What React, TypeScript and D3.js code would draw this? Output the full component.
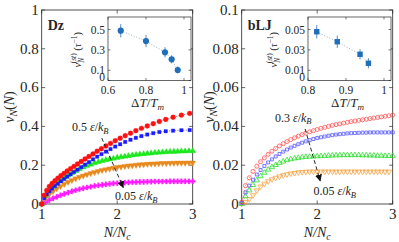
import React from "react";
import * as d3 from "d3";

// N/Nc sample grids
const xDzFast = [1.0, 1.033, 1.067, 1.102, 1.138, 1.176, 1.214, 1.254, 1.296, 1.338, 1.383, 1.428, 1.475, 1.524, 1.574, 1.626, 1.679, 1.734, 1.791, 1.85, 1.911, 1.974, 2.039, 2.106, 2.176, 2.247, 2.321, 2.398, 2.477, 2.558, 2.643, 2.74, 2.85, 2.96];
const xUniform = [1.0, 1.05, 1.1, 1.15, 1.2, 1.25, 1.3, 1.35, 1.4, 1.45, 1.5, 1.55, 1.6, 1.65, 1.7, 1.75, 1.8, 1.85, 1.9, 1.95, 2.0, 2.05, 2.1, 2.15, 2.2, 2.25, 2.3, 2.35, 2.4, 2.45, 2.5, 2.55, 2.6, 2.65, 2.7, 2.75, 2.8, 2.85, 2.9, 2.95, 3.0];

// Dz series (v_N)
const dzRed = [0, 0.045, 0.07, 0.09, 0.106, 0.12, 0.133, 0.146, 0.158, 0.17, 0.182, 0.194, 0.206, 0.219, 0.232, 0.245, 0.258, 0.272, 0.285, 0.299, 0.312, 0.326, 0.339, 0.352, 0.365, 0.378, 0.39, 0.402, 0.414, 0.425, 0.436, 0.447, 0.458, 0.467];
const dzBlue = [0, 0.03, 0.05, 0.066, 0.08, 0.093, 0.105, 0.117, 0.129, 0.141, 0.153, 0.165, 0.177, 0.19, 0.203, 0.216, 0.23, 0.244, 0.257, 0.27, 0.283, 0.296, 0.308, 0.32, 0.331, 0.341, 0.35, 0.358, 0.365, 0.371, 0.375, 0.378, 0.38, 0.381];
const dzGreen = [0, 0.042, 0.068, 0.089, 0.107, 0.122, 0.136, 0.148, 0.16, 0.17, 0.18, 0.189, 0.197, 0.204, 0.211, 0.217, 0.222, 0.227, 0.231, 0.235, 0.239, 0.242, 0.245, 0.248, 0.251, 0.254, 0.256, 0.258, 0.26, 0.262, 0.264, 0.265, 0.267, 0.268, 0.269, 0.27, 0.271, 0.272, 0.272, 0.273, 0.273];
const dzOrange = [0, 0.03, 0.05, 0.066, 0.08, 0.092, 0.103, 0.113, 0.122, 0.131, 0.139, 0.146, 0.152, 0.158, 0.164, 0.169, 0.174, 0.178, 0.182, 0.186, 0.189, 0.192, 0.195, 0.197, 0.199, 0.201, 0.203, 0.204, 0.206, 0.207, 0.208, 0.209, 0.21, 0.21, 0.211, 0.211, 0.212, 0.212, 0.212, 0.213, 0.213];
const dzMagenta = [0, 0.01, 0.02, 0.029, 0.037, 0.045, 0.052, 0.059, 0.065, 0.071, 0.076, 0.081, 0.085, 0.089, 0.093, 0.096, 0.099, 0.101, 0.104, 0.106, 0.107, 0.109, 0.11, 0.111, 0.112, 0.113, 0.114, 0.114, 0.115, 0.115, 0.116, 0.116, 0.116, 0.116, 0.117, 0.117, 0.117, 0.117, 0.117, 0.117, 0.117];

// bLJ series (v_N)
const ljRed = [0.001, 0.0095, 0.0135, 0.0168, 0.0195, 0.0218, 0.0238, 0.0256, 0.0272, 0.0286, 0.0299, 0.0311, 0.0322, 0.0332, 0.0341, 0.035, 0.0358, 0.0365, 0.0372, 0.0378, 0.0384, 0.039, 0.0395, 0.04, 0.0405, 0.0409, 0.0413, 0.0417, 0.0421, 0.0425, 0.0428, 0.0431, 0.0434, 0.0437, 0.044, 0.0443, 0.0446, 0.0449, 0.0452, 0.0455, 0.0458];
const ljBlue = [0.0005, 0.006, 0.0095, 0.0125, 0.0152, 0.0175, 0.0196, 0.0214, 0.023, 0.0245, 0.0258, 0.027, 0.0281, 0.0291, 0.03, 0.0308, 0.0316, 0.0323, 0.0329, 0.0335, 0.034, 0.0344, 0.0348, 0.0352, 0.0355, 0.0358, 0.036, 0.0362, 0.0364, 0.0365, 0.0366, 0.0367, 0.0368, 0.0368, 0.0369, 0.0369, 0.0369, 0.0369, 0.0369, 0.0369, 0.0369];
const ljGreen = [0, 0.004, 0.007, 0.0098, 0.0122, 0.0143, 0.0161, 0.0177, 0.019, 0.0201, 0.0211, 0.0219, 0.0226, 0.0231, 0.0235, 0.0238, 0.0241, 0.0243, 0.0244, 0.0245, 0.0246, 0.0247, 0.0248, 0.0249, 0.025, 0.0251, 0.0251, 0.0252, 0.0252, 0.0252, 0.0252, 0.0252, 0.0251, 0.0251, 0.025, 0.025, 0.0249, 0.0249, 0.0248, 0.0248, 0.0248];
const ljOrange = [0, 0.001, 0.0025, 0.0045, 0.007, 0.009, 0.0105, 0.0117, 0.0127, 0.0135, 0.0142, 0.0148, 0.0153, 0.0157, 0.016, 0.0163, 0.0165, 0.0166, 0.0167, 0.0167, 0.0167, 0.0167, 0.0167, 0.0167, 0.0167, 0.0167, 0.0167, 0.0167, 0.0167, 0.0167, 0.0167, 0.0167, 0.0167, 0.0167, 0.0167, 0.0167, 0.0167, 0.0167, 0.0167, 0.0167];

// insets: steady-state velocity vs undercooling
const dzInsetT = [0.667, 0.8, 0.9, 0.935, 0.967];
const dzInsetV = [0.488, 0.387, 0.276, 0.208, 0.103];
const dzInsetErr = [0.065, 0.06, 0.05, 0.04, 0.035];
const ljInsetT = [0.823, 0.877, 0.937, 0.959];
const ljInsetV = [0.0478, 0.038, 0.0257, 0.0169];
const ljInsetErr = [0.0065, 0.006, 0.005, 0.005];

// ticks
const mainXTicks = [1, 2, 3];
const dzYTicks = [0, 0.2, 0.4, 0.6, 0.8, 1];
const dzYTickLabels = ["0", "0.2", "0.4", "0.6", "0.8", "1"];
const ljYTicks = [0, 0.02, 0.04, 0.06, 0.08, 0.1];
const ljYTickLabels = ["0", "0.02", "0.04", "0.06", "0.08", "0.1"];
const dzInsetXTicks = [0.6, 0.8, 1];
const dzInsetXLabels = ["0.6", "0.8", "1"];
const dzInsetYTicks = [0, 0.1, 0.3, 0.5];
const dzInsetYLabels = ["0", "0.1", "0.3", "0.5"];
const ljInsetXTicks = [0.8, 0.9, 1];
const ljInsetXLabels = ["0.8", "0.9", "1"];
const ljInsetYTicks = [0, 0.01, 0.03, 0.05];
const ljInsetYLabels = ["0", "0.01", "0.03", "0.05"];

const FONT = "'Liberation Serif', 'Times New Roman', serif";
const AX = "#262626";

type Series = {
  xs: number[];
  ys: number[];
  color: string;
  shape: string;
  size: number;
  open?: boolean;
};

const symbols: Record<string, d3.SymbolType> = {
  circle: d3.symbolCircle,
  square: d3.symbolSquare,
  up: d3.symbolTriangle,
  down: d3.symbolTriangle,
  cross: d3.symbolCross,
};

function Eps({ value }: { value: string }) {
  return (
    <>
      {value + " "}
      <tspan fontStyle="italic">ε</tspan>/<tspan fontStyle="italic">k</tspan>
      <tspan fontStyle="italic" fontSize="8.5" dy="2.5">B</tspan>
    </>
  );
}

function Panel(props: {
  x0: number;
  x1: number;
  yMax: number;
  yTicks: number[];
  yLabels: string[];
  series: Series[];
  name: string;
  inset: {
    left: number;
    t: number[];
    v: number[];
    err: number[];
    xTicks: number[];
    xLabels: string[];
    yTicks: number[];
    yLabels: string[];
    vTop: number;
    marker: string;
    labelGap: number;
  };
  arrow: { from: [number, number]; to: [number, number] };
  hiLabel: { at: [number, number]; text: string };
  loLabel: { at: [number, number]; text: string };
}) {
  const { x0, x1, yMax } = props;
  const top = 10;
  const bottom = 204;
  const x = d3.scaleLinear().domain([1, 3]).range([x0, x1]);
  const y = d3.scaleLinear().domain([0, yMax]).range([bottom, top]);
  const ins = props.inset;
  const iTop = 17;
  const iBottom = 80.5;
  const iLeft = ins.left;
  const ix = d3.scaleLinear().domain([ins.xTicks[0], 1]).range([iLeft, iLeft + 76]);
  const iRight = iLeft + 83;
  const iy = d3.scaleLinear().domain([0, ins.vTop]).range([iBottom, 29.5]);
  const line = d3.line<number>();
  const tk = 3.5;
  const midX = (x0 + x1) / 2;
  const sym = (shape: string, size: number) => d3.symbol().type(symbols[shape]).size(size)()!;

  return (
    <g fontFamily={FONT} fill={AX}>
      <rect x={x0} y={top} width={x1 - x0} height={bottom - top} fill="white" stroke={AX} strokeWidth={0.8} />
      {/* main ticks */}
      {mainXTicks.map((t) => (
        <g key={"xt" + t}>
          <line x1={x(t)} x2={x(t)} y1={bottom} y2={bottom - tk} stroke={AX} strokeWidth={0.7} />
          <line x1={x(t)} x2={x(t)} y1={top} y2={top + tk} stroke={AX} strokeWidth={0.7} />
          <text x={x(t)} y={219} fontSize={15} textAnchor="middle">{t}</text>
        </g>
      ))}
      {props.yTicks.map((t, i) => (
        <g key={"yt" + t}>
          <line x1={x0} x2={x0 + tk} y1={y(t)} y2={y(t)} stroke={AX} strokeWidth={0.7} />
          <line x1={x1} x2={x1 - tk} y1={y(t)} y2={y(t)} stroke={AX} strokeWidth={0.7} />
          <text x={x0 - 3} y={y(t) + 4.8} fontSize={15} textAnchor="end">{props.yLabels[i]}</text>
        </g>
      ))}
      <text x={midX} y={237} fontSize={14} textAnchor="middle" fontStyle="italic">
        N/N<tspan fontSize={10} dy={3}>c</tspan>
      </text>
      <text transform={`translate(${x0 - 28},${(top + bottom) / 2}) rotate(-90)`} fontSize={14} textAnchor="middle">
        <tspan fontStyle="italic">v</tspan>
        <tspan fontStyle="italic" fontSize={10} dy={3}>N</tspan>
        <tspan dy={-3}>(</tspan>
        <tspan fontStyle="italic">N</tspan>)
      </text>
      <text x={x0 + 6} y={30} fontSize={14} fontWeight="bold">{props.name}</text>

      {/* data */}
      <g>
        {props.series.map((s, k) => {
          const pts = s.xs.slice(0, s.ys.length).map((xv, i) => [x(xv), y(s.ys[i])] as [number, number]);
          return (
            <g key={k}>
              <path d={line(pts as any)!} fill="none" stroke={s.color} strokeWidth={0.6} strokeDasharray="1.2,1.6" />
              {pts.map((p, i) => (
                <path
                  key={i}
                  d={sym(s.shape, s.size)}
                  transform={`translate(${p[0]},${p[1]})${s.shape === "down" ? " rotate(180)" : ""}`}
                  fill={s.open ? "none" : s.color}
                  stroke={s.color}
                  strokeWidth={s.open ? 0.8 : 0.3}
                />
              ))}
            </g>
          );
        })}
      </g>

      {/* annotation */}
      <line
        x1={x(props.arrow.from[0])}
        y1={y(props.arrow.from[1])}
        x2={x(props.arrow.to[0])}
        y2={y(props.arrow.to[1])}
        stroke="#111"
        strokeWidth={0.9}
        strokeDasharray="4,2.5"
        markerEnd="url(#ah)"
      />
      <text x={x(props.hiLabel.at[0])} y={y(props.hiLabel.at[1])} fontSize={12} fill="#222">
        <Eps value={props.hiLabel.text} />
      </text>
      <text x={x(props.loLabel.at[0])} y={y(props.loLabel.at[1])} fontSize={12} fill="#222">
        <Eps value={props.loLabel.text} />
      </text>

      {/* inset */}
      <rect x={iLeft} y={iTop} width={iRight - iLeft} height={iBottom - iTop} fill="white" stroke={AX} strokeWidth={0.7} />
      {ins.xTicks.map((t, i) => (
        <g key={"ixt" + t}>
          <line x1={ix(t)} x2={ix(t)} y1={iBottom} y2={iBottom - 2.5} stroke={AX} strokeWidth={0.6} />
          <line x1={ix(t)} x2={ix(t)} y1={iTop} y2={iTop + 2.5} stroke={AX} strokeWidth={0.6} />
          <text x={ix(t)} y={94} fontSize={11.5} textAnchor="middle">{ins.xLabels[i]}</text>
        </g>
      ))}
      {ins.yTicks.map((t, i) => (
        <g key={"iyt" + t}>
          <line x1={iLeft} x2={iLeft + 2.5} y1={iy(t)} y2={iy(t)} stroke={AX} strokeWidth={0.6} />
          <line x1={iRight} x2={iRight - 2.5} y1={iy(t)} y2={iy(t)} stroke={AX} strokeWidth={0.6} />
          <text x={iLeft - 3} y={iy(t) + (t === 0 ? 0.5 : 4)} fontSize={11.5} textAnchor="end">{ins.yLabels[i]}</text>
        </g>
      ))}
      <text x={(iLeft + iRight) / 2 - 2} y={107} fontSize={13} textAnchor="middle">
        Δ<tspan fontStyle="italic">T</tspan>/<tspan fontStyle="italic">T</tspan>
        <tspan fontStyle="italic" fontSize={9} dy={2.5}>m</tspan>
      </text>
      <text transform={`translate(${iLeft - ins.labelGap},${(iTop + iBottom) / 2 + 1}) rotate(-90)`} fontSize={10.5} textAnchor="middle">
        <tspan fontStyle="italic">v</tspan>
        <tspan fontStyle="italic" fontSize={7.5} dy={2.5}>N</tspan>
        <tspan fontSize={7.5} dx={-5.5} dy={-7.5}>(</tspan>
        <tspan fontSize={7.5} fontStyle="italic">st</tspan>
        <tspan fontSize={7.5}>)</tspan>
        <tspan dy={5}>{"  ("}</tspan>
        <tspan fontStyle="italic">τ</tspan>
        <tspan fontSize={7.5} dy={-4.5}>−1</tspan>
        <tspan dy={4.5}>)</tspan>
      </text>
      <path
        d={line(ins.t.map((t, i) => [ix(t), iy(ins.v[i])]) as any)!}
        fill="none"
        stroke="#7f9fc4"
        strokeWidth={0.8}
        strokeDasharray="1,1.8"
      />
      {ins.t.map((t, i) => (
        <g key={"ip" + i}>
          <line
            x1={ix(t)}
            x2={ix(t)}
            y1={iy(ins.v[i] - ins.err[i])}
            y2={iy(ins.v[i] + ins.err[i])}
            stroke="#2f6fb5"
            strokeWidth={0.8}
          />
          {ins.marker === "circle" ? (
            <circle cx={ix(t)} cy={iy(ins.v[i])} r={3.1} fill="#1f6fb8" />
          ) : (
            <rect x={ix(t) - 2.7} y={iy(ins.v[i]) - 2.7} width={5.4} height={5.4} fill="#1f6fb8" />
          )}
        </g>
      ))}
    </g>
  );
}

export default function App() {
  const dzSeries: Series[] = [
    { xs: xUniform, ys: dzMagenta, color: "#ff1aff", shape: "cross", size: 15 },
    { xs: xUniform, ys: dzOrange, color: "#e8891e", shape: "down", size: 16 },
    { xs: xUniform, ys: dzGreen, color: "#1ee81e", shape: "up", size: 16 },
    { xs: xDzFast, ys: dzBlue, color: "#1a1aff", shape: "square", size: 12 },
    { xs: xDzFast, ys: dzRed, color: "#ff1010", shape: "circle", size: 19 },
  ];
  const ljSeries: Series[] = [
    { xs: xUniform, ys: ljOrange, color: "#f5a243", shape: "down", size: 12, open: true },
    { xs: xUniform, ys: ljGreen, color: "#2fdc2f", shape: "up", size: 12, open: true },
    { xs: xUniform, ys: ljBlue, color: "#5a5aff", shape: "square", size: 9, open: true },
    { xs: xUniform, ys: ljRed, color: "#ff5555", shape: "circle", size: 13, open: true },
  ];
  return (
    <svg width={399} height={242} style={{ position: "absolute", left: 0, top: 0 }}>
      <defs>
        <marker id="ah" viewBox="0 0 10 10" refX="9" refY="5" markerWidth="7" markerHeight="7" orient="auto" markerUnits="userSpaceOnUse">
          <path d="M0,0 L10,5 L0,10 z" fill="#111" />
        </marker>
      </defs>
      <rect width={399} height={242} fill="white" />
      <Panel
        x0={41.7}
        x1={192.7}
        yMax={1}
        yTicks={dzYTicks}
        yLabels={dzYTickLabels}
        series={dzSeries}
        name="Dz"
        inset={{
          left: 108,
          t: dzInsetT,
          v: dzInsetV,
          err: dzInsetErr,
          xTicks: dzInsetXTicks,
          xLabels: dzInsetXLabels,
          yTicks: dzInsetYTicks,
          yLabels: dzInsetYLabels,
          vTop: 0.5,
          marker: "circle",
          labelGap: 27,
        }}
        arrow={{ from: [1.795, 0.34], to: [2.08, 0.085] }}
        hiLabel={{ at: [1.4, 0.375], text: "0.5" }}
        loLabel={{ at: [1.97, 0.02], text: "0.05" }}
      />
      <Panel
        x0={241.7}
        x1={392.7}
        yMax={0.1}
        yTicks={ljYTicks}
        yLabels={ljYTickLabels}
        series={ljSeries}
        name="bLJ"
        inset={{
          left: 308,
          t: ljInsetT,
          v: ljInsetV,
          err: ljInsetErr,
          xTicks: ljInsetXTicks,
          xLabels: ljInsetXLabels,
          yTicks: ljInsetYTicks,
          yLabels: ljInsetYLabels,
          vTop: 0.05,
          marker: "square",
          labelGap: 31,
        }}
        arrow={{ from: [1.84, 0.0387], to: [2.04, 0.0119] }}
        hiLabel={{ at: [1.44, 0.0425], text: "0.3" }}
        loLabel={{ at: [1.95, 0.0045], text: "0.05" }}
      />
    </svg>
  );
}
